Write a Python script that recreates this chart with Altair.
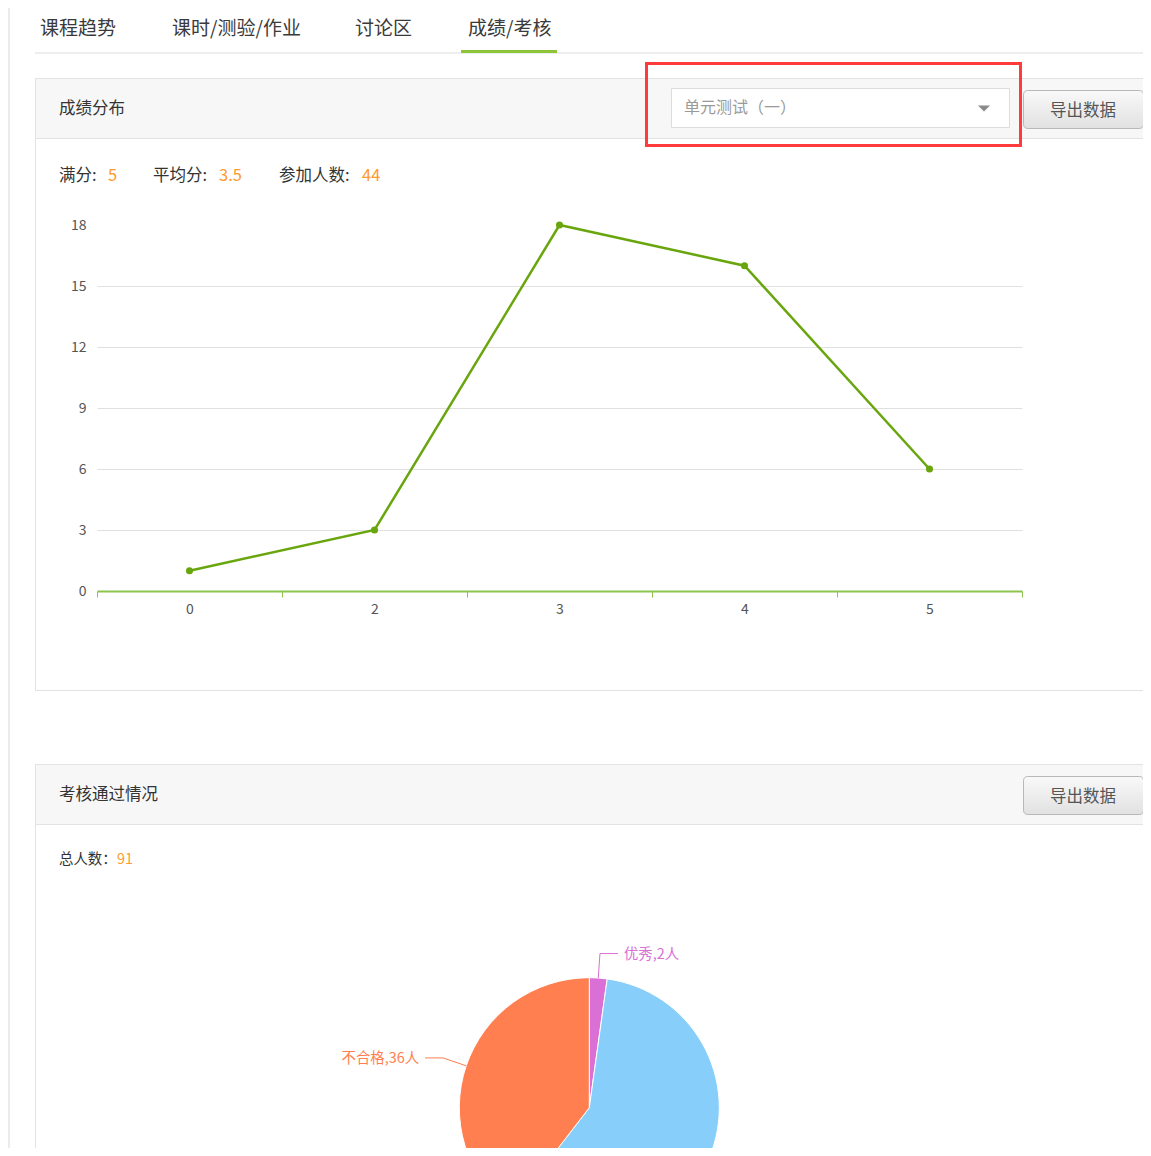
import altair as alt
import pandas as pd

# ---------------- data ----------------
tab_names = ["课程趋势", "课时/测验/作业", "讨论区", "成绩/考核"]
score_labels = ["0", "2", "3", "4", "5"]
score_counts = [1, 3, 18, 16, 6]
y_ticks = [0, 3, 6, 9, 12, 15, 18]
pie_names = ["优秀", "合格", "不合格"]
pie_values = [2, 53, 36]
pie_colors = ["#da70d6", "#87cefa", "#ff7f50"]
exam_name = "单元测试（一）"

full_score = max(int(s) for s in score_labels)
participants = sum(score_counts)
avg = sum(int(s) * c for s, c in zip(score_labels, score_counts)) / participants
total = sum(pie_values)

# ---------------- layout (page pixels) ----------------
FONT = "Noto Sans CJK SC"
OX, OY = 97, 225          # plot origin on the page
PW, PH = 925, 366         # plot area
W, H = 1135, 1140         # whole chart
GREEN = "#69a60e"
AXIS_GREEN = "#8dc44e"
ORANGE = "#ff9a2e"
TXT = "#333333"
DY = 1.0                  # CJK font vertical correction
VIS_BOTTOM = H - (OY - 8) - 12   # last visible y (plot coords) for pie labels


def X(v):
    return v - OX


def Y(v):
    return v - OY


one = pd.DataFrame({"k": [0]})


def rect(x1, y1, x2, y2, **kw):
    return alt.Chart(one).mark_rect(**kw).encode(
        x=alt.value(X(x1)), x2=alt.value(X(x2)),
        y=alt.value(Y(y1)), y2=alt.value(Y(y2)))


def txt(x, y, s, size, color, align="left"):
    return alt.Chart(one).mark_text(
        align=align, baseline="middle", fontSize=size, color=color, font=FONT
    ).encode(x=alt.value(X(x)), y=alt.value(Y(y + DY)), text=alt.value(s))


layers = []

# page left border
layers.append(rect(8, 0, 10, 1200, fill="#ebebeb"))

# tabs
layers.append(rect(35, 52, 1160, 54, fill="#eeeeee"))
layers.append(rect(461, 50, 557, 53, fill="#8cc43a"))
tab_x = [40, 172, 355, 468]
for name, tx in zip(tab_names, tab_x):
    layers.append(txt(tx, 28, name, 19, "#3a3a3a"))

# panel 1
layers.append(rect(35.5, 78.5, 1160, 690.5, fillOpacity=0, stroke="#e3e3e3", strokeWidth=1))
layers.append(rect(35.5, 78.5, 1160, 138.5, fill="#f7f7f7", stroke="#e3e3e3", strokeWidth=1))
layers.append(txt(59, 108, "成绩分布", 16.5, TXT))
layers.append(rect(671.5, 88.5, 1009.5, 127.5, fill="white", stroke="#dcdcdc", strokeWidth=1))
layers.append(txt(684, 107, exam_name, 16, "#9a9a9a"))
layers.append(alt.Chart(one).mark_point(shape="M-1,-0.5L1,-0.5L0,0.5Z", filled=True,
                                        color="#8a8a8a", size=144, opacity=1)
              .encode(x=alt.value(X(984)), y=alt.value(Y(108.5))))
layers.append(rect(646.5, 63.5, 1020.5, 145.5, fillOpacity=0, stroke="#ff3b3b", strokeWidth=3))

btn_fill = alt.Gradient(gradient="linear", x1=0, x2=0, y1=0, y2=1,
                        stops=[alt.GradientStop(color="#f9f9f9", offset=0),
                               alt.GradientStop(color="#e1e1e1", offset=1)])
layers.append(rect(1023.5, 90.5, 1143.5, 128.5, fill=btn_fill, stroke="#b8b8b8",
                   strokeWidth=1, cornerRadius=4))
layers.append(txt(1083, 109.5, "导出数据", 16.5, "#555555", align="center"))

# stats line
layers.append(txt(59, 175, "满分:", 16.5, TXT))
layers.append(txt(108, 175, f"{full_score}", 16.5, ORANGE))
layers.append(txt(153, 175, "平均分:", 16.5, TXT))
layers.append(txt(219, 175, f"{avg:.1f}", 16.5, ORANGE))
layers.append(txt(279, 175, "参加人数:", 16.5, TXT))
layers.append(txt(362, 175, f"{participants}", 16.5, ORANGE))

# panel 2
layers.append(rect(35.5, 764.5, 1160, 1200, fillOpacity=0, stroke="#e3e3e3", strokeWidth=1))
layers.append(rect(35.5, 764.5, 1160, 824.5, fill="#f7f7f7", stroke="#e3e3e3", strokeWidth=1))
layers.append(txt(59, 794, "考核通过情况", 16.5, TXT))
layers.append(rect(1023.5, 776.5, 1143.5, 814.5, fill=btn_fill, stroke="#b8b8b8",
                   strokeWidth=1, cornerRadius=4))
layers.append(txt(1083, 795.5, "导出数据", 16.5, "#555555", align="center"))
layers.append(txt(59, 859, "总人数：", 14.4, TXT))
layers.append(txt(117, 859, f"{total}", 14.4, ORANGE))

# ---------------- line chart ----------------
score_df = pd.DataFrame({"score": score_labels, "count": score_counts})
xenc = alt.X(
    "score:O", sort=score_labels, bandPosition=0.5,
    scale=alt.Scale(type="band", paddingInner=0, paddingOuter=0),
    axis=alt.Axis(title=None, labelAngle=0, tickBand="extent", domainColor=AXIS_GREEN,
                  domainWidth=2, tickColor=AXIS_GREEN, tickWidth=1, tickSize=6,
                  labelColor="#555555", labelFontSize=14, labelFont=FONT,
                  labelPadding=5, grid=False))
yenc = alt.Y(
    "count:Q", scale=alt.Scale(domain=[0, 18], nice=False, zero=True),
    axis=alt.Axis(title=None, values=y_ticks, grid=True, gridColor="#e0e0e0",
                  gridWidth=1,
                  gridOpacity={"condition": {"test": "datum.value === 0 || datum.value === 18",
                                             "value": 0}, "value": 1},
                  domain=False, ticks=False, tickSize=0, labelPadding=11,
                  labelColor="#555555", labelFontSize=14, labelFont=FONT))
base = alt.Chart(score_df)
layers.append(base.mark_line(color=GREEN, strokeWidth=2.5).encode(x=xenc, y=yenc))
layers.append(base.mark_point(filled=True, color=GREEN, size=50, opacity=1).encode(x=xenc, y=yenc))

# ---------------- pie ----------------
CX, CY, R, R2 = X(589.3), Y(1107.7), 130, 154.5
pie_df = pd.DataFrame({"name": pie_names, "value": pie_values, "idx": list(range(len(pie_names)))})
color_enc = alt.Color("name:N", scale=alt.Scale(domain=pie_names, range=pie_colors), legend=None)
layers.append(alt.Chart(pie_df).mark_arc(radius=R, stroke="white", strokeWidth=1).encode(
    theta=alt.Theta("value:Q", stack=True),
    color=color_enc,
    order=alt.Order("idx:Q"),
    x=alt.value(CX), y=alt.value(CY)))

lab = (alt.Chart(pie_df)
       .transform_joinaggregate(tot="sum(value)")
       .transform_window(cum="sum(value)", sort=[alt.SortField("idx")], frame=[None, 0])
       .transform_calculate(mid="(datum.cum - datum.value / 2) / datum.tot * 2 * PI")
       .transform_calculate(
           sx="sin(datum.mid)", cy_="cos(datum.mid)")
       .transform_calculate(
           x1=f"{CX} + {R} * datum.sx", y1=f"{CY} - {R} * datum.cy_",
           x2=f"{CX} + {R2} * datum.sx", y2=f"{CY} - {R2} * datum.cy_",
           side="datum.sx >= 0 ? 1 : -1")
       .transform_calculate(
           x3="datum.x2 + 18 * datum.side", tx="datum.x2 + 24 * datum.side",
           label="datum.name + ',' + datum.value + '人'")
       .transform_filter(f"datum.y2 < {VIS_BOTTOM}"))
layers.append(lab.mark_rule(strokeWidth=1).encode(
    x=alt.X("x1:Q", scale=None, axis=None), y=alt.Y("y1:Q", scale=None, axis=None),
    x2="x2:Q", y2="y2:Q", color=color_enc))
layers.append(lab.mark_rule(strokeWidth=1).encode(
    x=alt.X("x2:Q", scale=None, axis=None), y=alt.Y("y2:Q", scale=None, axis=None),
    x2="x3:Q", y2="y2:Q", color=color_enc))
layers.append(lab.transform_filter("datum.side > 0").mark_text(
    align="left", baseline="middle", fontSize=14.4, font=FONT, dy=DY).encode(
    x=alt.X("tx:Q", scale=None, axis=None), y=alt.Y("y2:Q", scale=None, axis=None),
    text="label:N", color=color_enc))
layers.append(lab.transform_filter("datum.side < 0").mark_text(
    align="right", baseline="middle", fontSize=14.4, font=FONT, dy=DY).encode(
    x=alt.X("tx:Q", scale=None, axis=None), y=alt.Y("y2:Q", scale=None, axis=None),
    text="label:N", color=color_enc))

chart = (alt.layer(*layers)
         .properties(width=PW, height=PH,
                     padding={"left": OX - 8, "top": OY - 8,
                              "right": W - (OX - 8) - PW, "bottom": H - (OY - 8) - PH},
                     autosize=alt.AutoSizeParams(type="none"),
                     background="white")
         .configure_view(strokeWidth=0))

chart.save("out.html", embed_options={"renderer": "svg", "actions": False})
